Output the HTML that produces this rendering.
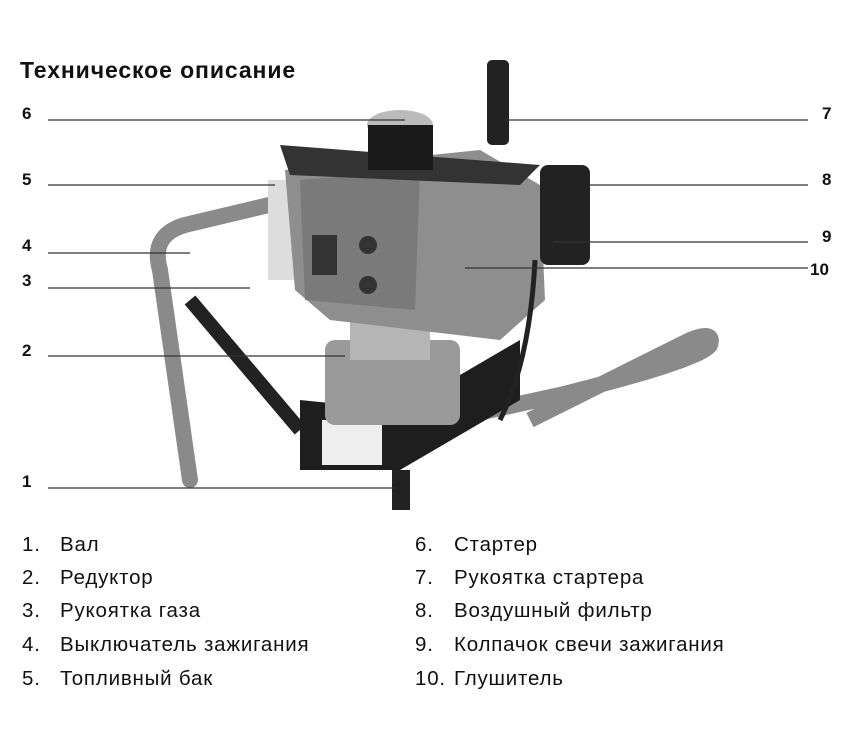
<!DOCTYPE html>
<html><head><meta charset="utf-8"><style>
body{margin:0;background:#fff;width:861px;height:731px;overflow:hidden;font-family:"Liberation Sans",sans-serif;position:relative}
.t{position:absolute;left:20px;top:57px;font-size:23px;font-weight:bold;color:#111;letter-spacing:0.9px}
.n{position:absolute;font-size:17px;font-weight:bold;color:#111}
.li{position:absolute;font-size:20.5px;color:#111;white-space:nowrap;letter-spacing:0.8px}
</style></head><body>
<div class="t">Техническое описание</div>
<svg width="861" height="731" style="position:absolute;left:0;top:0">
<path d="M190 480 L160 270 Q150 235 185 225 L290 200" stroke="#8a8a8a" stroke-width="16" fill="none" stroke-linecap="round"/>
<path d="M400 430 L560 395 Q700 360 710 345 Q715 330 690 340 L530 420" stroke="#8a8a8a" stroke-width="16" fill="none"/>
<path d="M190 300 L300 430" stroke="#222" stroke-width="14"/>
<polygon points="300,400 400,410 520,340 520,400 400,470 300,470" fill="#1e1e1e"/>
<rect x="322" y="420" width="60" height="45" fill="#eee"/>
<rect x="392" y="470" width="18" height="40" fill="#222"/>
<rect x="325" y="340" width="135" height="85" rx="10" fill="#9a9a9a"/>
<rect x="350" y="320" width="80" height="40" fill="#b5b5b5"/>
<rect x="268" y="180" width="50" height="100" fill="#ddd"/>
<path d="M285 170 L480 150 L540 185 L545 300 L500 340 L330 320 L295 290 Z" fill="#8e8e8e"/>
<path d="M300 180 L420 170 L415 310 L305 300 Z" fill="#7a7a7a"/>
<rect x="312" y="235" width="25" height="40" fill="#333"/>
<circle cx="368" cy="245" r="9" fill="#333"/><circle cx="368" cy="285" r="9" fill="#333"/>
<path d="M280 145 L540 165 L520 185 L290 175 Z" fill="#333"/>
<rect x="540" y="165" width="50" height="100" rx="8" fill="#222"/>
<ellipse cx="400" cy="125" rx="33" ry="15" fill="#bbb"/>
<rect x="368" y="125" width="65" height="45" fill="#1a1a1a"/>
<rect x="487" y="60" width="22" height="85" rx="5" fill="#222"/>
<path d="M535 260 Q530 360 500 420" stroke="#222" stroke-width="5" fill="none"/>
<g stroke="#333" stroke-width="1.3">
<line x1="48" y1="120" x2="405" y2="120"/><line x1="505" y1="120" x2="808" y2="120"/>
<line x1="48" y1="185" x2="275" y2="185"/><line x1="590" y1="185" x2="808" y2="185"/>
<line x1="553" y1="242" x2="808" y2="242"/><line x1="48" y1="253" x2="190" y2="253"/>
<line x1="465" y1="268" x2="808" y2="268"/><line x1="48" y1="288" x2="250" y2="288"/>
<line x1="48" y1="356" x2="345" y2="356"/><line x1="48" y1="488" x2="395" y2="488"/>
</g></svg>
<div class="n" style="left:22px;top:104px">6</div><div class="n" style="left:822px;top:104px">7</div>
<div class="n" style="left:22px;top:170px">5</div><div class="n" style="left:822px;top:170px">8</div>
<div class="n" style="left:822px;top:227px">9</div><div class="n" style="left:22px;top:236px">4</div>
<div class="n" style="left:810px;top:260px">10</div><div class="n" style="left:22px;top:271px">3</div>
<div class="n" style="left:22px;top:341px">2</div><div class="n" style="left:22px;top:472px">1</div>
<div class="li" style="left:22px;top:533px">1.</div><div class="li" style="left:60px;top:533px">Вал</div>
<div class="li" style="left:22px;top:566px">2.</div><div class="li" style="left:60px;top:566px">Редуктор</div>
<div class="li" style="left:22px;top:599px">3.</div><div class="li" style="left:60px;top:599px">Рукоятка газа</div>
<div class="li" style="left:22px;top:633px">4.</div><div class="li" style="left:60px;top:633px">Выключатель зажигания</div>
<div class="li" style="left:22px;top:667px">5.</div><div class="li" style="left:60px;top:667px">Топливный бак</div>
<div class="li" style="left:415px;top:533px">6.</div><div class="li" style="left:454px;top:533px">Стартер</div>
<div class="li" style="left:415px;top:566px">7.</div><div class="li" style="left:454px;top:566px">Рукоятка стартера</div>
<div class="li" style="left:415px;top:599px">8.</div><div class="li" style="left:454px;top:599px">Воздушный фильтр</div>
<div class="li" style="left:415px;top:633px">9.</div><div class="li" style="left:454px;top:633px">Колпачок свечи зажигания</div>
<div class="li" style="left:415px;top:667px">10.</div><div class="li" style="left:454px;top:667px">Глушитель</div>
</body></html>
